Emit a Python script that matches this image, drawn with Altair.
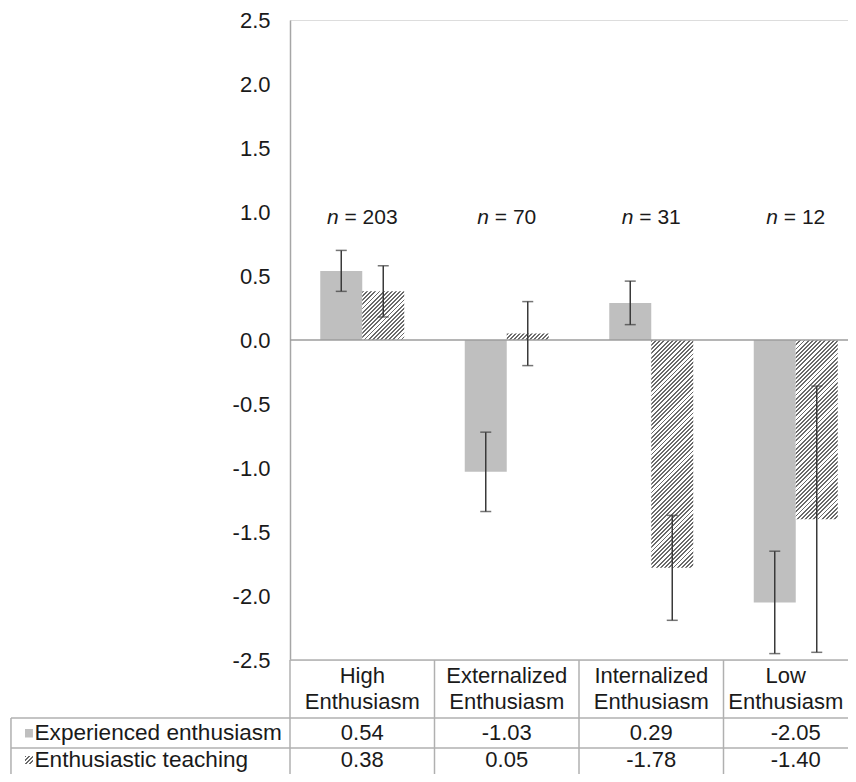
import altair as alt
import pandas as pd

# ---------------- data ----------------
categories = ["High Enthusiasm", "Externalized Enthusiasm", "Internalized Enthusiasm", "Low Enthusiasm"]
category_header = ["High\nEnthusiasm", "Externalized\nEnthusiasm", "Internalized\nEnthusiasm", "Low\nEnthusiasm"]
series_names = ["Experienced enthusiasm", "Enthusiastic teaching"]
experienced = [0.54, -1.03, 0.29, -2.05]
teaching = [0.38, 0.05, -1.78, -1.40]
experienced_err = [0.16, 0.31, 0.17, 0.40]
teaching_err = [0.20, 0.25, 0.41, 1.04]
experienced_txt = ["0.54", "-1.03", "0.29", "-2.05"]
teaching_txt = ["0.38", "0.05", "-1.78", "-1.40"]
group_n = ["203", "70", "31", "12"]
y_ticks = [2.5, 2.0, 1.5, 1.0, 0.5, 0.0, -0.5, -1.0, -1.5, -2.0, -2.5]

# ---------------- style / layout ----------------
FONT = "Liberation Sans"
FS = 22
TXT = "#1a1a1a"
GRAY_BAR = "#bfbfbf"
HATCH_DARK = "#6a6a6a"
HATCH_LIGHT = "#ffffff"
ERR = "#3a3a3a"
LINE = "#b0b0b0"
AXIS = "#a6a6a6"
PLOT_W, PLOT_H = 558, 640
CAT_SPAN = 578                 # range of the four category columns (last one runs past the edge)
COL = CAT_SPAN / 4
BAR_W = 42
PX_PER_UNIT = PLOT_H / 5.0
PAD_L, PAD_T, TABLE_H = 282, 12, 114
N_LABEL_Y = 0.95
# table layout (x in column units, y in table units)
LABEL_COL = 1.931
KEY_X = (-1.834, -1.779)
LABEL_X = -1.768
ROW_Y = [0, 58, 88, 130]
HEAD_Y, ROW1_Y, ROW2_Y = 16, 73, 100
KEY1_Y, KEY2_Y = (69, 77.5), (96, 104)
VISIBLE_COLS = PLOT_W / COL    # how much of the last column is inside the picture

x_scale = alt.Scale(domain=categories, range=[0, CAT_SPAN], paddingInner=0, paddingOuter=0)
xo_scale = alt.Scale(domain=series_names, paddingInner=0, paddingOuter=(COL / BAR_W - 2) / 2)
y_scale = alt.Scale(domain=[-2.5, 2.5], nice=False, zero=False)

X = alt.X("cat:N", scale=x_scale, axis=None, sort=categories)
XO = alt.XOffset("series:N", scale=xo_scale, sort=series_names)


def hatch(w, h, period=4.2, frac=0.45):
    h = max(h, 1.0)
    s = w * (w + h) / (w * w + h * h)
    n = max(1, round((w + h) / period))
    stops = []
    for k in range(n):
        a, b, c = k / n, (k + frac) / n, (k + 1) / n
        stops += [(a, HATCH_DARK), (b, HATCH_DARK), (b, HATCH_LIGHT), (c, HATCH_LIGHT)]
    return alt.LinearGradient(
        gradient="linear",
        stops=[alt.GradientStop(offset=round(o, 5), color=col) for o, col in stops],
        x1=0, y1=0, x2=s, y2=s * h / w,
    )


# ---------------- main plot ----------------
df_exp = pd.DataFrame({"cat": categories, "series": series_names[0], "value": experienced})
bars_exp = alt.Chart(df_exp).mark_bar(color=GRAY_BAR).encode(
    x=X, xOffset=XO,
    y=alt.Y("value:Q", scale=y_scale,
            axis=alt.Axis(values=y_ticks, title=None, grid=False, ticks=False, tickSize=0,
                          labelPadding=20, labelFont=FONT, labelFontSize=FS, labelColor=TXT,
                          labelExpr="replace(format(datum.value, '.1f'), '\u2212', '-')",
                          domainColor=AXIS, domainWidth=1.5)),
    y2=alt.datum(0),
)

hatched_layers = []
for c, v in zip(categories, teaching):
    d = pd.DataFrame({"cat": [c], "series": [series_names[1]], "value": [v]})
    hatched_layers.append(
        alt.Chart(d).mark_bar(fill=hatch(BAR_W, abs(v) * PX_PER_UNIT)).encode(
            x=X, xOffset=XO, y=alt.Y("value:Q", scale=y_scale), y2=alt.datum(0)
        )
    )

zero_line = alt.Chart(pd.DataFrame({"z": [0.0]})).mark_rule(color="#9c9c9c", strokeWidth=1.5).encode(
    y=alt.Y("z:Q", scale=y_scale)
)

err_rows = []
cap_rows = []
for c, v, e in zip(categories, experienced, experienced_err):
    err_rows.append({"cat": c, "series": series_names[0], "lo": v - e, "hi": v + e})
for c, v, e in zip(categories, teaching, teaching_err):
    err_rows.append({"cat": c, "series": series_names[1], "lo": v - e, "hi": v + e})
for r in err_rows:
    cap_rows.append({"cat": r["cat"], "series": r["series"], "yv": r["lo"]})
    cap_rows.append({"cat": r["cat"], "series": r["series"], "yv": r["hi"]})
df_err = pd.DataFrame(err_rows)
df_cap = pd.DataFrame(cap_rows)

err_rule = alt.Chart(df_err).mark_rule(color=ERR, strokeWidth=1.5).encode(
    x=X, xOffset=XO, y=alt.Y("lo:Q", scale=y_scale), y2="hi:Q"
)
err_cap = alt.Chart(df_cap).mark_tick(color=ERR, thickness=1.5, size=11).encode(
    x=X, xOffset=XO, y=alt.Y("yv:Q", scale=y_scale)
)

# n labels ("n" italic, rest regular)
W_EM = {"n": 0.556, " ": 0.278, "=": 0.584}
def em(s):
    return sum(W_EM.get(ch, 0.556) for ch in s)

NFS = 21
n_layers = []
for c, n in zip(categories, group_n):
    full = "n = " + n
    start = -em(full) * NFS / 2
    d = pd.DataFrame({"cat": [c], "yv": [N_LABEL_Y], "a": ["n"], "b": ["= " + n]})
    n_layers.append(alt.Chart(d).mark_text(font=FONT, fontSize=NFS, fontStyle="italic", color=TXT,
                                           align="left", baseline="middle", dx=start).encode(
        x=X, y=alt.Y("yv:Q", scale=y_scale), text="a:N"))
    n_layers.append(alt.Chart(d).mark_text(font=FONT, fontSize=NFS, color=TXT,
                                           align="left", baseline="middle", dx=start + em("n ") * NFS).encode(
        x=X, y=alt.Y("yv:Q", scale=y_scale), text="b:N"))

main = alt.layer(bars_exp, *hatched_layers, zero_line, err_rule, err_cap, *n_layers)

# ---------------- data table ----------------
tx = alt.Scale(domain=[0, 4], range=[0, CAT_SPAN], nice=False, zero=False)
ty = alt.Scale(domain=[0, TABLE_H], range=[PLOT_H, PLOT_H + TABLE_H], nice=False, zero=False)

hlines = pd.DataFrame({
    "x1": [0, -LABEL_COL, -LABEL_COL],
    "x2": [4, 4, 4],
    "y": [ROW_Y[0], ROW_Y[1], ROW_Y[2]],
})
vlines = pd.DataFrame({
    "x": [-LABEL_COL, 0, 1, 2, 3, 4],
    "y1": [ROW_Y[1], ROW_Y[0], ROW_Y[0], ROW_Y[0], ROW_Y[0], ROW_Y[0]],
    "y2": [ROW_Y[3]] * 6,
})
h_rule = alt.Chart(hlines).mark_rule(color=LINE, strokeWidth=1.5).encode(
    x=alt.X("x1:Q", scale=tx, axis=None), x2="x2:Q", y=alt.Y("y:Q", scale=ty, axis=None))
v_rule = alt.Chart(vlines).mark_rule(color=LINE, strokeWidth=1.5).encode(
    x=alt.X("x:Q", scale=tx, axis=None), y=alt.Y("y1:Q", scale=ty, axis=None), y2="y2:Q")

head_x = [i + 0.5 for i in range(3)] + [(3 + VISIBLE_COLS) / 2]
cells = pd.DataFrame({
    "x": head_x + [i + 0.5 for i in range(4)] * 2,
    "y": [HEAD_Y] * 4 + [ROW1_Y] * 4 + [ROW2_Y] * 4,
    "t": category_header + experienced_txt + teaching_txt,
})
cell_text = alt.Chart(cells).mark_text(font=FONT, fontSize=FS, color=TXT, align="center",
                                       baseline="middle", lineBreak="\n", lineHeight=25.5).encode(
    x=alt.X("x:Q", scale=tx, axis=None), y=alt.Y("y:Q", scale=ty, axis=None), text="t:N")

row_labels = pd.DataFrame({"x": [LABEL_X, LABEL_X], "y": [ROW1_Y, ROW2_Y], "t": series_names})
label_text = alt.Chart(row_labels).mark_text(font=FONT, fontSize=22.6, color=TXT, align="left",
                                             baseline="middle").encode(
    x=alt.X("x:Q", scale=tx, axis=None), y=alt.Y("y:Q", scale=ty, axis=None), text="t:N")

key1 = alt.Chart(pd.DataFrame({"x1": [KEY_X[0]], "x2": [KEY_X[1]], "y1": [KEY1_Y[0]], "y2": [KEY1_Y[1]]})
                 ).mark_rect(color=GRAY_BAR).encode(
    x=alt.X("x1:Q", scale=tx, axis=None), x2="x2:Q", y=alt.Y("y1:Q", scale=ty, axis=None), y2="y2:Q")
key2 = alt.Chart(pd.DataFrame({"x1": [KEY_X[0]], "x2": [KEY_X[1]], "y1": [KEY2_Y[0]], "y2": [KEY2_Y[1]]})
                 ).mark_rect(fill=hatch(8, 8, period=4.0, frac=0.4)).encode(
    x=alt.X("x1:Q", scale=tx, axis=None), x2="x2:Q", y=alt.Y("y1:Q", scale=ty, axis=None), y2="y2:Q")

table = alt.layer(h_rule, v_rule, cell_text, label_text, key1, key2)

chart = alt.layer(main, table).resolve_scale(x="independent", y="independent").properties(
    width=PLOT_W, height=PLOT_H,
    autosize=alt.AutoSizeParams(type="none"),
    padding={"left": PAD_L, "top": PAD_T, "right": 0, "bottom": TABLE_H},
).configure_view(stroke=None).configure(background="white")

chart.save("out.html", embed_options={"renderer": "svg", "actions": False})
